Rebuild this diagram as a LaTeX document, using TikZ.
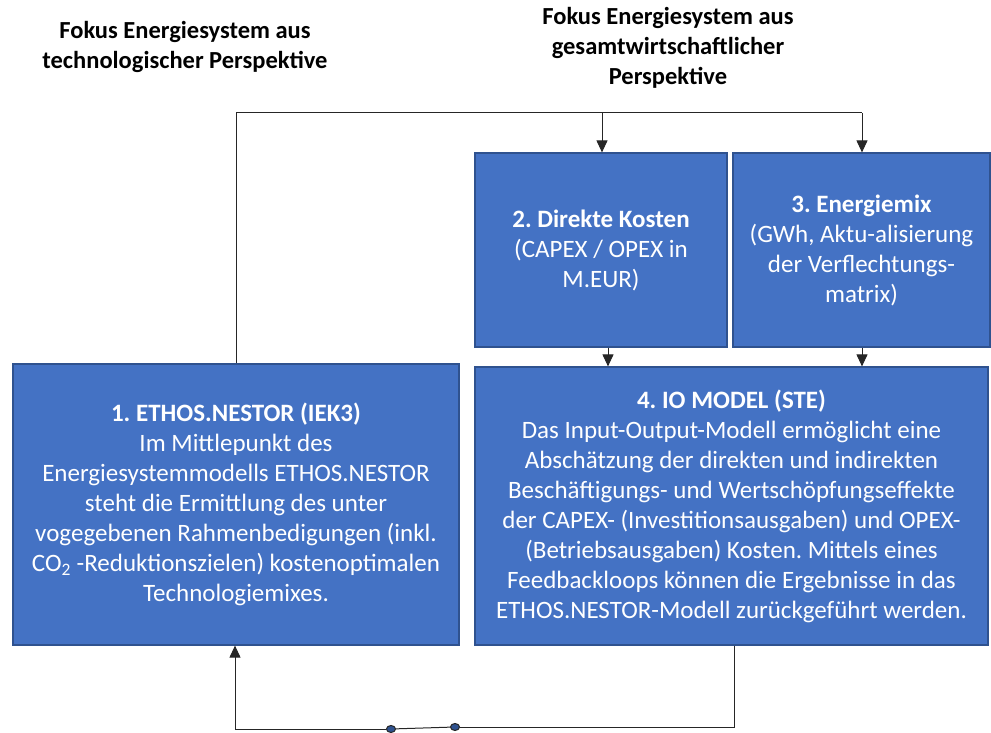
\documentclass[tikz,border=0pt]{standalone}
\usepackage{fontspec}
\setmainfont{Carlito}
\usetikzlibrary{arrows.meta,shapes.geometric}
\definecolor{boxfill}{HTML}{4472C4}
\definecolor{boxline}{HTML}{2F528F}
\definecolor{wire}{HTML}{262626}
\frenchspacing
\begin{document}
\begin{tikzpicture}[x=1pt,y=1pt,
  block/.style={draw=boxline, line width=1.2pt, fill=boxfill, text=white,
    align=center, inner sep=0pt, font=\fontsize{25}{30}\selectfont},
  heading/.style={align=center, font=\bfseries\fontsize{24.5}{30}\selectfont},
  link/.style={draw=wire, line width=1pt},
  tip/.style={-{Triangle[length=12pt,width=11pt]}},
  knob/.style={ellipse, draw=black!85, fill=boxline, line width=1pt,
    minimum width=9pt, minimum height=7pt, inner sep=0pt}]
\useasboundingbox (0,0) rectangle (991,-733);

% headings
\node[heading] (h1) at (185,-47) {Fokus Energiesystem aus\\technologischer Perspektive};
\node[heading] (h2) at (668,-48) {Fokus Energiesystem aus\\gesamtwirtschaftlicher\\Perspektive};

% model blocks
\node[block, minimum width=446pt, minimum height=281pt] (b1) at (236,-504.5)
  {\textbf{1. ETHOS.NESTOR (IEK3)}\\Im Mittlepunkt des\\Energiesystemmodells ETHOS.NESTOR\\steht die Ermittlung des unter\\vogegebenen Rahmenbedigungen (inkl.\\CO\textsubscript{2} -Reduktionszielen) kostenoptimalen\\Technologiemixes.};
\node[block, minimum width=252pt, minimum height=194pt] (b2) at (601,-250)
  {\textbf{2. Direkte Kosten}\\(CAPEX / OPEX in\\M.EUR)};
\node[block, minimum width=257pt, minimum height=194pt] (b3) at (861.5,-250)
  {\textbf{3. Energiemix}\\(GWh, Aktu-alisierung\\der Verflechtungs-\\matrix)};
\node[block, minimum width=513pt, minimum height=278pt] (b4) at (731.5,-506)
  {\textbf{4. IO MODEL (STE)}\\Das Input-Output-Modell ermöglicht eine\\Abschätzung der direkten und indirekten\\Beschäftigungs- und Wertschöpfungseffekte\\der CAPEX- (Investitionsausgaben) und OPEX-\\(Betriebsausgaben) Kosten. Mittels eines\\Feedbackloops können die Ergebnisse in das\\ETHOS.NESTOR-Modell zurückgeführt werden.};

% routing points
\coordinate (top1) at (236,-113);
\coordinate (top2) at (602,-113);
\coordinate (top3) at (862,-113);
\coordinate (bot4) at (734,-727);
\coordinate (bot1) at (235,-729);

% switch contacts in the feedback line
\node[knob] (k1) at (391,-729) {};
\node[knob] (k2) at (455,-727) {};

% top distribution line
\draw[link] (b1.north -| top1) -- (top1) -- (top3);
\draw[link, tip] (top2) -- (b2.north -| top2);
\draw[link, tip] (top3) -- (b3.north -| top3);

% into the IO model
\draw[link, tip] (b2.south -| 608,0) -- (b4.north -| 608,0);
\draw[link, tip] (b3.south -| 862,0) -- (b4.north -| 862,0);

% feedback loop
\draw[link] (b4.south -| bot4) -- (bot4) -- (k2);
\draw[link] (k2) -- (k1);
\draw[link, tip] (k1) -- (bot1) -- (b1.south -| bot1);
\end{tikzpicture}
\end{document}
